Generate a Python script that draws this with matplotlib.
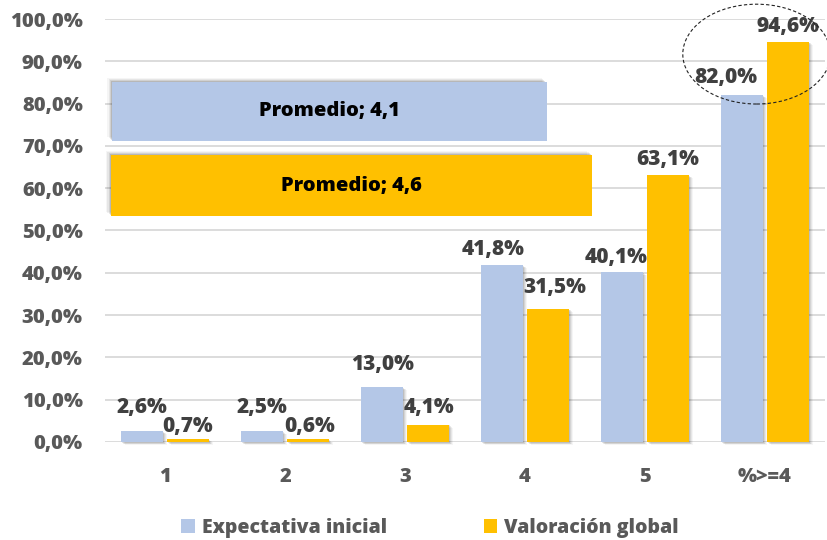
import matplotlib
matplotlib.use("Agg")
import matplotlib.pyplot as plt
from matplotlib.patches import Rectangle, Ellipse, Patch
from matplotlib.ticker import FuncFormatter, MultipleLocator

categories = ["1", "2", "3", "4", "5", "%>=4"]
expectativa = [2.6, 2.5, 13.0, 41.8, 40.1, 82.0]
valoracion = [0.7, 0.6, 4.1, 31.5, 63.1, 94.6]
series_names = ["Expectativa inicial", "Valoración global"]
promedio_labels = ["Promedio; 4,1", "Promedio; 4,6"]

BLUE = "#B4C7E7"
GOLD = "#FFC000"
GRAY = "#595959"
LABEL = "#404040"
FONT = "Open Sans"
WEIGHT = 800

plt.rcParams["font.family"] = [FONT, "DejaVu Sans"]

fig = plt.figure(figsize=(8.28, 5.40), dpi=100)
ax = fig.add_axes([105/828, (540-442)/540, 720/828, (442-19)/540])

x = list(range(len(categories)))
w = 0.35
off = 0.19

def shadow_rects(ax, x0, y0, wd, ht, dx, dy, zorder):
    for k, a in zip(range(4), [0.10, 0.08, 0.06, 0.04]):
        ax.add_patch(Rectangle((x0 + dx*(k+1)*0.5, y0 + dy*(k+1)*0.5), wd, ht,
                               facecolor="black", alpha=a, edgecolor="none",
                               zorder=zorder, clip_on=False))

px_x = 1/120.0
px_y = 1/4.23

for i in x:
    for v, sgn in ((expectativa[i], -1), (valoracion[i], 1)):
        shadow_rects(ax, i + sgn*off - w/2, 0, w, v, 2*px_x, -1.5*px_y, 1.5)

ax.bar([i - off for i in x], expectativa, width=w, color=BLUE, zorder=2)
ax.bar([i + off for i in x], valoracion, width=w, color=GOLD, zorder=2)

# label offsets in pixels (dx, dy above bar top to text baseline)
label_off1 = [(0, 18), (0, 18), (0, 17), (-9, 10), (-6, 9), (-16, 12)]
label_off2 = [(0, 7), (2, 7), (1, 12), (7, 16), (0, 10), (0, 10)]
def fmt(v):
    return f"{v:.1f}%".replace(".", ",")
for i in x:
    ax.annotate(fmt(expectativa[i]), (i - off, expectativa[i]), xytext=label_off1[i],
                textcoords="offset pixels", ha="center", va="baseline",
                fontsize=15, fontweight=WEIGHT, color=LABEL, zorder=5)
    ax.annotate(fmt(valoracion[i]), (i + off, valoracion[i]), xytext=label_off2[i],
                textcoords="offset pixels", ha="center", va="baseline",
                fontsize=15, fontweight=WEIGHT, color=LABEL, zorder=5)

boxes = [(-0.44, 71.2, 3.62, 13.9, BLUE), (-0.45, 53.4, 4.01, 14.4, GOLD)]
for (bx, by, bw, bh, col), txt in zip(boxes, promedio_labels):
    for k, a in zip(range(4), [0.12, 0.09, 0.06, 0.04]):
        ax.add_patch(Rectangle((bx - (k+1)*1.2*px_x, by + (k+1)*1.0*px_y), bw, bh,
                               facecolor="black", alpha=a, edgecolor="none", zorder=3))
    ax.add_patch(Rectangle((bx, by), bw, bh, facecolor=col, edgecolor="none", zorder=4))
    ax.text(bx + bw/2, by + bh/2, txt, ha="center", va="center", fontsize=14.5,
            fontweight=WEIGHT, color="black", zorder=5)

ax.add_patch(Ellipse((4.93, 91.7), 1.23, 23.6, fill=False, edgecolor="#222222",
                     linewidth=0.8, linestyle=(0, (3, 2)), zorder=6, clip_on=False))

ax.set_xlim(-0.5, 5.5)
ax.set_ylim(0, 100)
ax.yaxis.set_major_locator(MultipleLocator(10))
ax.yaxis.set_major_formatter(FuncFormatter(lambda v, p: f"{v:.1f}%".replace(".", ",")))
ax.set_xticks(x)
ax.set_xticklabels(categories)
ax.grid(axis="y", color="#D9D9D9", linewidth=1.3, zorder=0)
ax.set_axisbelow(True)
for s in ax.spines.values():
    s.set_visible(False)
ax.tick_params(axis="both", length=0, labelsize=14.5, labelcolor=GRAY)
ax.tick_params(axis="y", pad=16)
ax.tick_params(axis="x", pad=18)
for t in ax.get_xticklabels() + ax.get_yticklabels():
    t.set_fontweight(WEIGHT)

handles = [Patch(facecolor=BLUE, edgecolor="none"), Patch(facecolor=GOLD, edgecolor="none")]
leg = fig.legend(handles, series_names, loc="center", bbox_to_anchor=(430/828, 1 - 528/540),
                 ncol=2, frameon=False, handlelength=0.7, handleheight=0.7,
                 handletextpad=0.35, columnspacing=5.0,
                 prop={"family": FONT, "weight": WEIGHT, "size": 14})
for t in leg.get_texts():
    t.set_color(GRAY)

fig.savefig("out.png", dpi=100)
